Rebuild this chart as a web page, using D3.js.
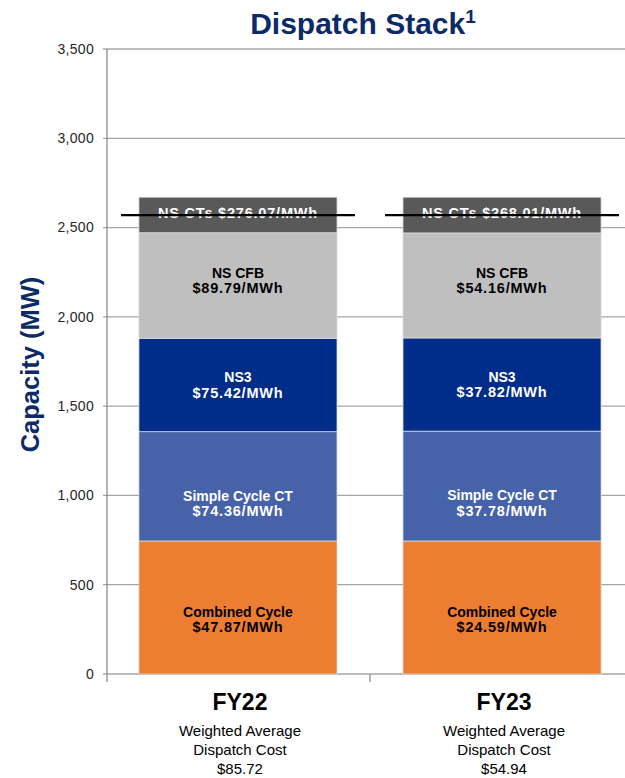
<!DOCTYPE html>
<html>
<head>
<meta charset="utf-8">
<script src="https://cdn.jsdelivr.net/npm/d3@7"></script>
<style>
  body { margin: 0; background: #fff; }
  text { font-family: "Liberation Sans", Arial, sans-serif; }
</style>
</head>
<body>
<div id="chart"></div>
<script>
// data
const years = ["FY22", "FY23"];
const seriesNames = ["Combined Cycle", "Simple Cycle CT", "NS3", "NS CFB", "NS CTs"];
const fy22Values = [745, 612, 523, 591, 199];
const fy23Values = [745, 615, 522, 588, 200];
const fy22Costs = ["$47.87/MWh", "$74.36/MWh", "$75.42/MWh", "$89.79/MWh", "$276.07/MWh"];
const fy23Costs = ["$24.59/MWh", "$37.78/MWh", "$37.82/MWh", "$54.16/MWh", "$268.01/MWh"];
const markerLine = [2570, 2570];
const weightedAvg = ["$85.72", "$54.94"];
const yTicks = [0, 500, 1000, 1500, 2000, 2500, 3000, 3500];

const width = 625, height = 778;
const margin = { top: 49, right: -8, bottom: 104, left: 107 };

const colors = {
    "Combined Cycle": "#ED7D31",
    "Simple Cycle CT": "#4662A8",
    "NS3": "#002D8A",
    "NS CFB": "#BFBFBF",
    "NS CTs": "#595959"
};
const textColors = {
    "Combined Cycle": "#000",
    "Simple Cycle CT": "#fff",
    "NS3": "#fff",
    "NS CFB": "#000",
    "NS CTs": "#fff"
};

const svg = d3.select("#chart").append("svg")
    .attr("width", width)
    .attr("height", height);

const x = d3.scaleBand()
    .domain(years)
    .range([margin.left, width - margin.right])
    .paddingInner(0.25)
    .paddingOuter(0.121);

const y = d3.scaleLinear()
    .domain([0, 3500])
    .range([height - margin.bottom, margin.top]);

// build stacked table
const rows = years.map((yr, i) => {
    const vals = i === 0 ? fy22Values : fy23Values;
    const row = { year: yr };
    seriesNames.forEach((s, j) => row[s] = vals[j]);
    return row;
});
const stacked = d3.stack().keys(seriesNames)(rows);
const costs = { FY22: fy22Costs, FY23: fy23Costs };

// gridlines
svg.append("g")
   .selectAll("line")
   .data(yTicks)
   .enter()
   .append("line")
   .attr("x1", margin.left - 4)
   .attr("x2", width)
   .attr("y1", d => y(d))
   .attr("y2", d => y(d))
   .style("stroke", "#A6A6A6")
   .style("stroke-width", 1.3);

// y axis line
svg.append("line")
   .attr("x1", margin.left).attr("x2", margin.left)
   .attr("y1", y(3500)).attr("y2", y(0) + 8)
   .style("stroke", "#8C8C8C")
   .style("stroke-width", 1.3);

// category separator tick
const sepX = (x("FY22") + x.bandwidth() + x("FY23")) / 2;
svg.append("line")
   .attr("x1", sepX).attr("x2", sepX)
   .attr("y1", y(0)).attr("y2", y(0) + 8)
   .style("stroke", "#8C8C8C")
   .style("stroke-width", 1.3);

svg.append("g")
   .selectAll("text")
   .data(yTicks)
   .enter()
   .append("text")
   .attr("x", margin.left - 13)
   .attr("y", d => y(d))
   .attr("dy", "0.35em")
   .attr("text-anchor", "end")
   .style("font-size", "14px")
   .style("letter-spacing", "0.3px")
   .style("fill", "#262626")
   .text(d => d3.format(",")(d));

// stacked bars
const groups = svg.append("g")
   .selectAll("g")
   .data(stacked)
   .enter()
   .append("g")
   .style("fill", d => colors[d.key]);

groups.selectAll("rect")
   .data(d => d.map(p => ({ key: d.key, p: p })))
   .enter()
   .append("rect")
   .attr("x", d => x(d.p.data.year))
   .attr("width", x.bandwidth())
   .attr("y", d => y(d.p[1]))
   .attr("height", d => y(d.p[0]) - y(d.p[1]))
   .style("stroke", "#D9D9D9")
   .style("stroke-width", 0.8);

// segment labels
const labelShift = { "Combined Cycle": 12, "Simple Cycle CT": 17, "NS3": 0, "NS CFB": -5, "NS CTs": -2 };
stacked.forEach((layer, li) => {
    layer.forEach(p => {
        const cx = x(p.data.year) + x.bandwidth() / 2;
        const cy = (y(p[0]) + y(p[1])) / 2 + labelShift[layer.key];
        const cost = costs[p.data.year][li];
        const lines = layer.key === "NS CTs" ? [layer.key + " " + cost] : [layer.key, cost];
        lines.forEach((line, k) => {
            const isName = lines.length > 1 && k === 0;
            svg.append("text")
               .attr("x", cx)
               .attr("y", cy + (k - (lines.length - 1) / 2) * 15)
               .attr("dy", "0.35em")
               .attr("text-anchor", "middle")
               .style("font-size", isName ? "14px" : "14.5px")
               .style("letter-spacing", isName ? "0px" : "0.8px")
               .style("font-weight", "bold")
               .style("fill", textColors[layer.key])
               .text(line);
        });
    });
});

// marker line
svg.append("g")
   .selectAll("line")
   .data(years)
   .enter()
   .append("line")
   .attr("x1", d => x(d) + x.bandwidth() / 2 - 117)
   .attr("x2", d => x(d) + x.bandwidth() / 2 + 117)
   .attr("y1", (d, i) => y(markerLine[i]))
   .attr("y2", (d, i) => y(markerLine[i]))
   .style("stroke", "#000")
   .style("stroke-width", 2.2);

// category labels
years.forEach((yr, i) => {
    const cx = x(yr) + x.bandwidth() / 2 + 2;
    svg.append("text")
       .attr("x", cx).attr("y", 710)
       .attr("text-anchor", "middle")
       .style("font-size", "23px")
       .style("font-weight", "bold")
       .style("fill", "#000")
       .text(yr);
    ["Weighted Average", "Dispatch Cost", weightedAvg[i]].forEach((line, k) => {
        svg.append("text")
           .attr("x", cx).attr("y", 736 + k * 19)
           .attr("text-anchor", "middle")
           .style("font-size", "15px")
           .style("fill", "#000")
           .text(line);
    });
});

// axis title
svg.append("text")
   .attr("transform", `translate(39, ${(y(0) + y(3500)) / 2 + 3}) rotate(-90)`)
   .attr("text-anchor", "middle")
   .style("font-size", "25.5px")
   .style("font-weight", "bold")
   .style("fill", "#0B2A66")
   .text("Capacity (MW)");

// title
const title = svg.append("text")
   .attr("x", 363).attr("y", 34)
   .attr("text-anchor", "middle")
   .style("font-size", "30px")
   .style("font-weight", "bold")
   .style("fill", "#0B2A66");
title.append("tspan").text("Dispatch Stack");
title.append("tspan").attr("dy", -11).style("font-size", "19px").text("1");
</script>
</body>
</html>
